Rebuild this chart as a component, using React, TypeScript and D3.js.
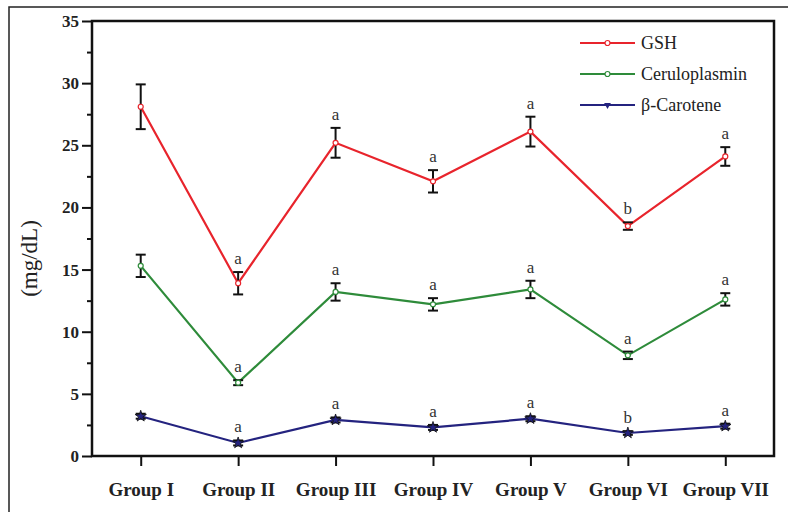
import React, { useEffect, useRef } from 'react';
import * as d3 from 'd3';

const groups = ['Group I', 'Group II', 'Group III', 'Group IV', 'Group V', 'Group VI', 'Group VII'];

const gshMean = [28.1, 13.9, 25.2, 22.1, 26.1, 18.5, 24.1];
const gshErr = [1.8, 0.9, 1.2, 0.9, 1.2, 0.3, 0.75];
const gshLetters = ['', 'a', 'a', 'a', 'a', 'b', 'a'];

const ceruMean = [15.3, 5.9, 13.2, 12.2, 13.4, 8.1, 12.6];
const ceruErr = [0.9, 0.2, 0.7, 0.5, 0.7, 0.3, 0.5];
const ceruLetters = ['', 'a', 'a', 'a', 'a', 'a', 'a'];

const caroMean = [3.2, 1.05, 2.9, 2.3, 3.0, 1.85, 2.4];
const caroErr = [0.2, 0.2, 0.2, 0.2, 0.2, 0.15, 0.2];
const caroLetters = ['', 'a', 'a', 'a', 'a', 'b', 'a'];

const yTicks = [0, 5, 10, 15, 20, 25, 30, 35];

interface Series {
  name: string;
  color: string;
  marker: 'circle' | 'star';
  mean: number[];
  err: number[];
  letters: string[];
}

const series: Series[] = [
  { name: 'GSH', color: '#e8242c', marker: 'circle', mean: gshMean, err: gshErr, letters: gshLetters },
  { name: 'Ceruloplasmin', color: '#2e8b3a', marker: 'circle', mean: ceruMean, err: ceruErr, letters: ceruLetters },
  { name: 'β-Carotene', color: '#24237f', marker: 'star', mean: caroMean, err: caroErr, letters: caroLetters },
];

export default function App() {
  const svgRef = useRef<SVGSVGElement>(null);

  useEffect(() => {
    if (!svgRef.current) return;
    const svg = d3.select(svgRef.current);
    svg.selectAll('*').remove();

    const W = 788, H = 512;
    const left = 92, right = 774, top = 21, bottom = 456;
    const serif = "'Liberation Serif', serif";

    svg.append('rect').attr('width', W).attr('height', H).attr('fill', '#ffffff');

    // outer frame of the figure
    svg.append('rect')
      .attr('x', 9).attr('y', 7)
      .attr('width', 820).attr('height', 600)
      .attr('fill', 'none')
      .attr('stroke', '#222')
      .attr('stroke-width', 1.5);

    const x = d3.scalePoint<string>().domain(groups).range([left, right]).padding(0.5);
    const y = d3.scaleLinear().domain([0, 35]).range([bottom, top]);

    // y axis with minor ticks
    const yAxis = svg.append('g').attr('transform', `translate(${left},0)`);
    yAxis.call(
      d3.axisLeft(y).tickValues(d3.range(0, 35.01, 2.5)).tickSize(0).tickFormat(() => '')
    );
    yAxis.select('.domain').remove();
    yAxis.selectAll('.tick line')
      .attr('x2', (d: any) => (d % 5 === 0 ? -10 : -5))
      .attr('stroke', '#111')
      .attr('stroke-width', 2);

    svg.append('g')
      .selectAll('text')
      .data(yTicks)
      .enter()
      .append('text')
      .attr('x', left - 13)
      .attr('y', d => y(d))
      .attr('dy', '0.35em')
      .attr('text-anchor', 'end')
      .attr('font-family', serif)
      .attr('font-weight', 'bold')
      .attr('font-size', 17)
      .attr('fill', '#222')
      .text(d => d);

    // x axis
    const xAxis = svg.append('g').attr('transform', `translate(0,${bottom})`);
    xAxis.call(d3.axisBottom(x).tickSize(10).tickPadding(10));
    xAxis.attr('font-family', serif).attr('font-size', 19);
    xAxis.select('.domain').remove();
    xAxis.selectAll('.tick line').attr('stroke', '#111').attr('stroke-width', 2);
    xAxis.selectAll('.tick text')
      .attr('y', 27)
      .attr('font-weight', 'bold')
      .attr('fill', '#222');

    // plot frame
    svg.append('rect')
      .attr('x', left).attr('y', top)
      .attr('width', right - left).attr('height', bottom - top)
      .attr('fill', 'none')
      .attr('stroke', '#111')
      .attr('stroke-width', 2.5);

    // y label
    svg.append('text')
      .attr('transform', `translate(37,${(top + bottom) / 2 + 20}) rotate(-90)`)
      .attr('text-anchor', 'middle')
      .attr('font-family', serif)
      .attr('font-size', 23)
      .attr('fill', '#222')
      .text('(mg/dL)');

    const line = d3.line<number>()
      .x((_, i) => x(groups[i]) as number)
      .y(d => y(d));

    const star = d3.symbol().type(d3.symbolStar).size(40);

    series.forEach(s => {
      const g = svg.append('g');
      g.append('path')
        .datum(s.mean)
        .attr('d', line)
        .attr('fill', 'none')
        .attr('stroke', s.color)
        .attr('stroke-width', 2.2);

      // error bars
      s.mean.forEach((m, i) => {
        const cx = x(groups[i]) as number;
        const y1 = y(m + s.err[i]);
        const y0 = y(m - s.err[i]);
        g.append('line')
          .attr('x1', cx).attr('x2', cx).attr('y1', y1).attr('y2', y0)
          .attr('stroke', '#111').attr('stroke-width', 2);
        [y1, y0].forEach(yy => {
          g.append('line')
            .attr('x1', cx - 5).attr('x2', cx + 5).attr('y1', yy).attr('y2', yy)
            .attr('stroke', '#111').attr('stroke-width', 2);
        });
        if (s.letters[i]) {
          g.append('text')
            .attr('x', cx)
            .attr('y', y1 - 8)
            .attr('text-anchor', 'middle')
            .attr('font-family', serif)
            .attr('font-size', 17)
            .attr('fill', '#333')
            .text(s.letters[i]);
        }
      });

      // markers
      s.mean.forEach((m, i) => {
        const cx = x(groups[i]) as number;
        if (s.marker === 'circle') {
          g.append('circle')
            .attr('cx', cx).attr('cy', y(m)).attr('r', 2.5)
            .attr('fill', '#fff').attr('stroke', s.color).attr('stroke-width', 1.2);
        } else {
          g.append('path')
            .attr('d', star)
            .attr('transform', `translate(${cx},${y(m)})`)
            .attr('fill', s.color)
            .attr('stroke', '#111')
            .attr('stroke-width', 0.8);
        }
      });
    });

    // legend
    const legend = svg.append('g').attr('transform', 'translate(580,43)');
    series.forEach((s, i) => {
      const item = legend.append('g').attr('transform', `translate(0,${i * 31})`);
      item.append('line')
        .attr('x1', 0).attr('x2', 55).attr('y1', 0).attr('y2', 0)
        .attr('stroke', s.color).attr('stroke-width', 2);
      if (s.marker === 'circle') {
        item.append('circle')
          .attr('cx', 27.5).attr('cy', 0).attr('r', 2.5)
          .attr('fill', '#fff').attr('stroke', s.color).attr('stroke-width', 1.2);
      } else {
        item.append('path')
          .attr('d', d3.symbol().type(d3.symbolTriangle).size(20))
          .attr('transform', 'translate(27.5,0) rotate(180)')
          .attr('fill', s.color);
      }
      item.append('text')
        .attr('x', 61)
        .attr('y', 0)
        .attr('dy', '0.35em')
        .attr('font-family', serif)
        .attr('font-size', 18)
        .attr('fill', '#222')
        .text(s.name);
    });
  }, []);

  return (
    <svg
      ref={svgRef}
      width={788}
      height={512}
      style={{ position: 'absolute', left: 0, top: 0, display: 'block' }}
    />
  );
}
